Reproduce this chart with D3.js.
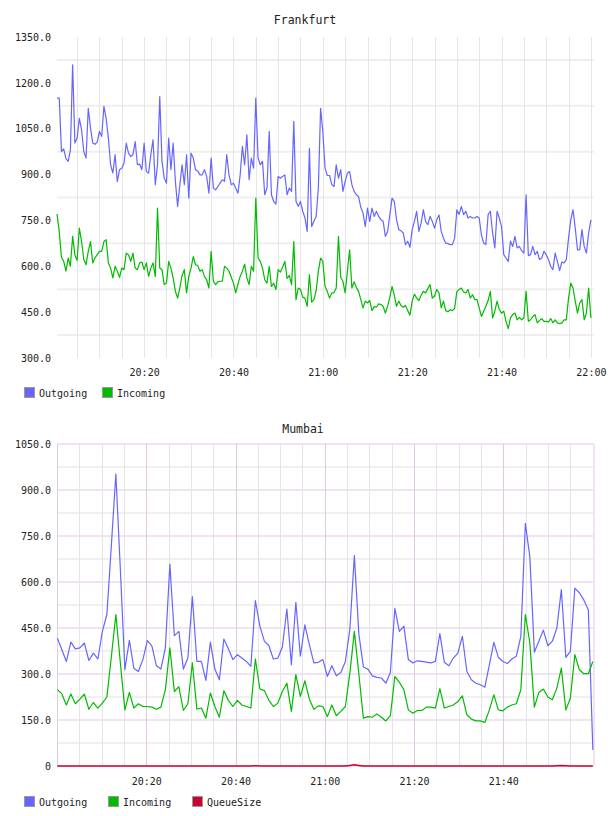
<!DOCTYPE html>
<html>
<head>
<meta charset="utf-8">
<script src="https://cdn.jsdelivr.net/npm/d3@7"></script>
<style>
  body { margin: 0; background: #fff; }
  text { font-family: "DejaVu Sans Mono", monospace; }
</style>
</head>
<body>
<script>
// Frankfurt, one sample every 30 seconds from 20:00:30
var frankfurtOut = [
  1150,1150,975,984,952,943,981,1259,1003,1019,
  1084,1046,975,954,1117,1052,1003,999,1006,1041,
  1025,1123,1084,1019,932,905,965,877,916,921,
  937,1003,970,959,965,1008,932,934,916,1003,
  910,905,965,1014,867,932,1155,943,888,872,
  1019,916,1003,877,796,867,932,867,965,823,
  970,954,916,912,899,899,916,894,839,954,
  856,850,861,872,883,878,965,899,867,872,
  856,839,899,992,932,1030,883,954,921,1150,
  954,932,943,834,856,1041,834,812,803,894,
  888,894,899,834,856,845,1074,812,796,812,
  780,758,714,986,730,747,763,856,1117,1041,
  921,897,897,867,861,932,888,916,845,878,
  905,910,867,845,834,828,793,774,730,790,
  747,790,763,780,763,752,747,698,714,768,
  823,812,752,720,716,709,671,682,662,720,
  747,780,714,741,785,747,736,763,747,725,
  752,768,714,692,676,674,671,671,692,785,
  769,796,769,780,758,763,758,758,763,758,
  703,676,671,769,780,709,660,780,758,730,
  638,627,616,682,665,698,660,665,651,643,
  834,635,638,665,638,649,622,627,649,638,
  622,600,589,643,616,586,614,611,622,692,
  752,785,725,654,654,720,665,643,709,752
];
var frankfurtIn = [
  771,714,629,616,584,627,600,698,638,619,
  725,681,622,605,649,681,611,627,638,649,
  649,681,687,611,594,562,600,584,564,594,
  589,643,638,616,643,594,589,611,614,589,
  611,567,594,611,567,790,594,589,540,545,
  616,594,562,518,496,529,570,589,513,567,
  594,632,605,603,584,589,567,556,529,649,
  551,540,549,551,551,600,594,584,564,545,
  513,542,567,584,607,562,540,600,584,823,
  627,616,594,556,545,600,534,545,524,589,
  581,597,616,560,570,540,681,491,529,524,
  499,496,469,573,483,491,520,584,627,616,
  534,518,496,513,514,529,698,564,551,513,
  584,654,529,549,531,518,491,464,486,480,
  488,455,468,466,477,475,469,447,469,499,
  534,505,469,486,472,466,472,455,440,486,
  509,496,488,505,518,513,527,540,496,502,
  524,513,464,486,455,451,458,455,462,518,
  524,529,516,513,524,496,507,491,491,464,
  436,453,469,488,518,431,453,486,458,447,
  453,420,396,431,442,447,425,433,425,431,
  518,420,425,436,442,415,423,429,420,420,
  418,429,415,425,415,412,415,425,425,496,
  545,529,486,447,480,491,425,447,529,431
];

// Mumbai, roughly one sample a minute from 20:00:05
var mumbaiOut = [
  417,379,341,404,382,385,401,344,368,349,
  439,494,720,952,640,314,410,319,308,347,
  409,392,327,316,385,658,425,439,316,352,
  552,341,341,279,404,316,281,414,382,347,
  363,352,341,325,539,456,407,392,349,352,
  388,512,330,534,358,460,396,336,338,347,
  292,327,294,305,341,445,686,430,323,316,
  294,289,287,270,305,514,439,456,347,336,
  343,341,339,336,341,432,338,327,352,368,
  423,308,281,270,265,257,330,403,354,341,
  334,349,358,423,791,682,371,407,443,392,
  407,450,575,354,374,580,565,541,509,52
];
var mumbaiIn = [
  249,235,199,235,203,218,234,185,207,189,
  205,225,357,494,336,183,240,189,203,194,
  194,192,185,192,249,385,243,259,181,203,
  336,185,189,156,238,194,159,245,214,194,
  214,199,194,189,349,251,246,214,194,205,
  243,270,178,298,227,278,218,185,196,194,
  161,199,164,178,194,303,439,300,156,161,
  159,170,159,147,164,292,273,249,183,172,
  181,181,192,192,189,252,189,194,199,210,
  229,167,153,147,147,142,183,232,183,180,
  192,199,203,249,494,401,192,240,251,225,
  216,254,319,183,221,363,314,301,301,341
];
var mumbaiQueue = [
  0,0,0,0,0,0,0,0,0,0, 0,0,0,0,0,0,0,0,0,0,
  0,0,0,0,0,0,0,0,0,0, 0,0,0,0,0,0,0,0,0,0,
  0,0,0,0,1,0,0,0,0,0, 0,0,0,0,0,0,0,0,0,0,
  0,0,0,0,0,2,4,2,0,0, 0,0,0,0,0,0,0,0,0,0,
  0,0,0,0,0,0,0,0,0,0, 0,0,0,0,0,0,0,0,0,0,
  0,0,0,0,0,0,0,0,0,0, 0,1,2,1,0,0,0,0,0,0
];

var topYTicks = [300, 450, 600, 750, 900, 1050, 1200, 1350];
var botYTicks = [0, 150, 300, 450, 600, 750, 900, 1050];
var topXLabels = ["20:20", "20:40", "21:00", "21:20", "21:40", "22:00"];
var botXLabels = ["20:20", "20:40", "21:00", "21:20", "21:40"];

var cOut = "#6666ff", cIn = "#00bb00", cQueue = "#cc0033";

var parse = d3.timeParse("%H:%M:%S");
var hm = d3.timeParse("%H:%M");
var fraTimes = d3.range(frankfurtOut.length).map(function(i){
  return new Date(parse("20:00:30").getTime() + i * 30000);
});
var mumTimes = d3.range(mumbaiOut.length).map(function(i){
  return new Date(parse("20:00:05").getTime() + i * 60500);
});

var svg = d3.select("body").append("svg")
  .attr("width", 608)
  .attr("height", 816);

function yFormat(d){ return d === 0 ? "0" : d.toFixed(1); }

// ---------- Frankfurt ----------
var xTop = d3.scaleTime().domain([parse("20:00:30"), parse("22:00:15")]).range([57, 592]);
var yTop = d3.scaleLinear().domain([300, 1350]).range([358, 37]);

var g1 = svg.append("g");
g1.selectAll(".hgrid").data(d3.range(375, 1350, 150)).enter()
  .append("line")
  .attr("x1", 57).attr("x2", 594)
  .attr("y1", function(d){ return yTop(d); })
  .attr("y2", function(d){ return yTop(d); })
  .attr("stroke", "#efefef").attr("stroke-width", 2);
g1.selectAll(".vgrid").data(d3.timeMinute.every(5).range(parse("20:05:00"), parse("22:00:01"))).enter()
  .append("line")
  .attr("x1", function(d){ return Math.round(xTop(d)) + 0.5; })
  .attr("x2", function(d){ return Math.round(xTop(d)) + 0.5; })
  .attr("y1", 37).attr("y2", 358)
  .attr("stroke", "#e6e6e6").attr("stroke-width", 1);

var lineTop = d3.line()
  .x(function(d, i){ return xTop(fraTimes[i]); })
  .y(function(d){ return yTop(d); });

g1.append("path").datum(frankfurtOut)
  .attr("d", lineTop).attr("fill", "none")
  .attr("stroke", cOut).attr("stroke-width", 1.2).attr("stroke-linejoin", "round");
g1.append("path").datum(frankfurtIn)
  .attr("d", lineTop).attr("fill", "none")
  .attr("stroke", cIn).attr("stroke-width", 1.2).attr("stroke-linejoin", "round");

g1.append("g").attr("transform", "translate(57,0)")
  .call(d3.axisLeft(yTop).tickValues(topYTicks).tickSize(0).tickPadding(6).tickFormat(yFormat))
  .call(function(g){ g.select(".domain").remove(); })
  .attr("font-family", "DejaVu Sans Mono").attr("font-size", 10).attr("color", "#222");
g1.append("g").attr("transform", "translate(0,358)")
  .call(d3.axisBottom(xTop).tickValues(topXLabels.map(function(s){ return hm(s); }))
    .tickSize(0).tickPadding(11).tickFormat(d3.timeFormat("%H:%M")))
  .call(function(g){ g.select(".domain").remove(); })
  .attr("font-family", "DejaVu Sans Mono").attr("font-size", 10).attr("color", "#222");

g1.append("text").attr("x", 305).attr("y", 24)
  .attr("text-anchor", "middle").attr("font-size", 11.5).attr("fill", "#222")
  .text("Frankfurt");

// ---------- Mumbai ----------
var xBot = d3.scaleTime().domain([parse("20:00:00"), parse("22:00:20")]).range([57, 594]);
var yBot = d3.scaleLinear().domain([0, 1050]).range([766, 444]);

var g2 = svg.append("g");
g2.selectAll(".hminor").data(d3.range(75, 1050, 150)).enter()
  .append("line")
  .attr("x1", 57).attr("x2", 594)
  .attr("y1", function(d){ return yBot(d); })
  .attr("y2", function(d){ return yBot(d); })
  .attr("stroke", "#f1f0f1").attr("stroke-width", 2);
g2.selectAll(".hmajor").data(botYTicks).enter()
  .append("line")
  .attr("x1", 57).attr("x2", 594)
  .attr("y1", function(d){ return yBot(d); })
  .attr("y2", function(d){ return yBot(d); })
  .attr("stroke", "#f1e3f1").attr("stroke-width", 2);
g2.selectAll(".vgrid").data(d3.timeMinute.every(5).range(parse("20:00:00"), parse("21:56:00"))).enter()
  .append("line")
  .attr("x1", function(d){ return Math.round(xBot(d)) + 0.5; })
  .attr("x2", function(d){ return Math.round(xBot(d)) + 0.5; })
  .attr("y1", 444).attr("y2", 766)
  .attr("stroke", function(d){ return d.getMinutes() % 20 === 0 ? "#dfcadf" : "#e8e3e8"; })
  .attr("stroke-width", 1);
g2.append("line")
  .attr("x1", 594).attr("x2", 594).attr("y1", 444).attr("y2", 766)
  .attr("stroke", "#f1e3f1").attr("stroke-width", 2);

var lineBot = d3.line()
  .x(function(d, i){ return xBot(mumTimes[i]); })
  .y(function(d){ return yBot(d); });

g2.append("path").datum(mumbaiOut)
  .attr("d", lineBot).attr("fill", "none")
  .attr("stroke", cOut).attr("stroke-width", 1.2).attr("stroke-linejoin", "round");
g2.append("path").datum(mumbaiIn)
  .attr("d", lineBot).attr("fill", "none")
  .attr("stroke", cIn).attr("stroke-width", 1.2).attr("stroke-linejoin", "round");
g2.append("path").datum(mumbaiQueue)
  .attr("d", lineBot).attr("fill", "none")
  .attr("stroke", cQueue).attr("stroke-width", 1.5);

g2.append("g").attr("transform", "translate(57,0)")
  .call(d3.axisLeft(yBot).tickValues(botYTicks).tickSize(0).tickPadding(6).tickFormat(yFormat))
  .call(function(g){ g.select(".domain").remove(); })
  .attr("font-family", "DejaVu Sans Mono").attr("font-size", 10).attr("color", "#222");
g2.append("g").attr("transform", "translate(0,766)")
  .call(d3.axisBottom(xBot).tickValues(botXLabels.map(function(s){ return hm(s); }))
    .tickSize(0).tickPadding(12).tickFormat(d3.timeFormat("%H:%M")))
  .call(function(g){ g.select(".domain").remove(); })
  .attr("font-family", "DejaVu Sans Mono").attr("font-size", 10).attr("color", "#222");

g2.append("text").attr("x", 303).attr("y", 433)
  .attr("text-anchor", "middle").attr("font-size", 11.5).attr("fill", "#222")
  .text("Mumbai");

// ---------- legends ----------
function legend(items, y){
  var lg = svg.append("g");
  items.forEach(function(it){
    lg.append("rect")
      .attr("x", it.x + 0.5).attr("y", y + 0.5)
      .attr("width", 10).attr("height", 10)
      .attr("fill", it.color).attr("stroke", "#999").attr("stroke-width", 1);
    lg.append("text")
      .attr("x", it.x + 15).attr("y", y + 9.5)
      .attr("font-size", 10).attr("fill", "#222")
      .text(it.name);
  });
}
legend([{name: "Outgoing", color: cOut, x: 24}, {name: "Incoming", color: cIn, x: 102}], 387);
legend([{name: "Outgoing", color: cOut, x: 24}, {name: "Incoming", color: cIn, x: 108},
        {name: "QueueSize", color: cQueue, x: 192}], 796);
</script>
</body>
</html>
